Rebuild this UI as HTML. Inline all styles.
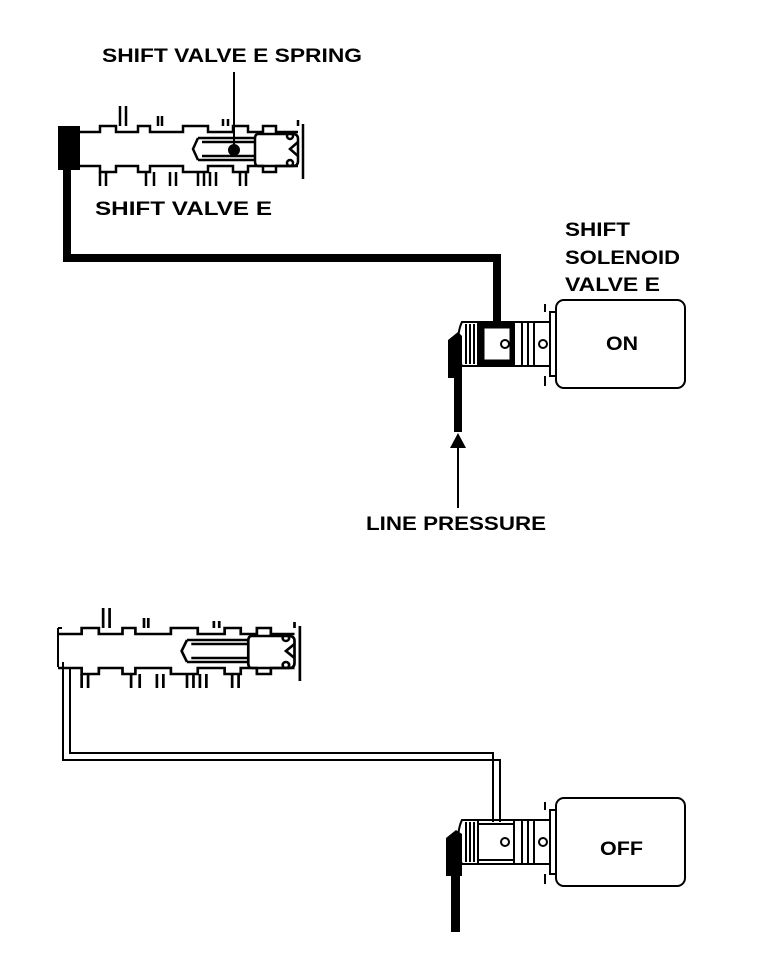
<!DOCTYPE html>
<html><head><style>
html,body{margin:0;padding:0;background:#fff;}
svg{display:block;}
text{font-family:"Liberation Sans",sans-serif;font-weight:bold;fill:#000;}
</style></head><body>
<svg width="768" height="966" viewBox="0 0 768 966" xmlns="http://www.w3.org/2000/svg">
<defs>
<g id="valve" fill="none" stroke="#000" stroke-width="2.5">
  <path d="M20 8 H42 V2 H58 V8 H80 V2 H92 V8 H125 V2 H150 V8 H175 V2 H190 V8 H205 V2 H218 V8 H240" />
  <path d="M20 42 H42 V48 H58 V42 H80 V48 H92 V42 H125 V48 H150 V42 H175 V48 H190 V42 H205 V48 H218 V42 H240" />
  <path d="M62 2 V-18 M68 2 V-18 M100 2 V-8 M104 2 V-8 M165 2 V-5 M170 2 V-5 M240 2 V-4" />
  <path d="M42 48 V62 M48 48 V62 M88 48 V62 M96 48 V62 M112 48 V62 M118 48 V62 M140 48 V62 M146 48 V62 M152 48 V62 M158 48 V62 M182 48 V62 M188 48 V62" />
  <path d="M140 14 H198 M140 36 H198 M144 18 H198 M144 32 H198 M140 14 L135 25 L140 36" />
  <path d="M200 10 H235 Q240 10 240 15 V37 Q240 42 235 42 H200 Q197 42 197 37 V15 Q197 10 200 10 Z" />
  <path d="M240 18 L232 25 L240 32" />
  <circle cx="232" cy="12" r="3"/><circle cx="232" cy="39" r="3"/>
  <path d="M245 0 V55" />
</g>
<g id="sol" stroke="#000" stroke-width="2" fill="none">
  <rect x="556" y="0" width="129" height="88" rx="8" fill="#fff"/>
  <rect x="550" y="12" width="6" height="64"/>
  <path d="M545 4 V12 M545 76 V86" />
  <path d="M477 22 H550 V66 H477" />
  <rect x="478" y="26" width="36" height="36" fill="#fff"/>
  <path d="M514 22 V66 M522 22 V66 M528 22 V66 M534 22 V66" />
  <circle cx="505" cy="44" r="4"/><circle cx="543" cy="44" r="4"/>
  <path d="M462 22 H478 V66 H462 Q458 58 458 44 Q458 30 462 22 Z" fill="#fff"/>
  <path d="M466 24 V64 M470 24 V64 M474 24 V64" />
</g>
</defs>

<text x="102" y="62" font-size="19" textLength="260" lengthAdjust="spacingAndGlyphs">SHIFT VALVE E SPRING</text>
<use href="#valve" x="58" y="124"/>
<rect x="58" y="126" width="22" height="44" fill="#000"/>
<line x1="234" y1="72" x2="234" y2="148" stroke="#000" stroke-width="2"/>
<circle cx="234" cy="150" r="6" fill="#000"/>
<text x="95" y="215" font-size="19" textLength="177" lengthAdjust="spacingAndGlyphs">SHIFT VALVE E</text>
<polyline points="67,170 67,258 497,258 497,322" fill="none" stroke="#000" stroke-width="8"/>
<text x="565" y="236" font-size="19" textLength="65" lengthAdjust="spacingAndGlyphs">SHIFT</text>
<text x="565" y="264" font-size="19" textLength="115" lengthAdjust="spacingAndGlyphs">SOLENOID</text>
<text x="565" y="291" font-size="19" textLength="95" lengthAdjust="spacingAndGlyphs">VALVE E</text>
<use href="#sol" y="300"/>
<path d="M478 322 H514 V366 H478 Z" fill="#000"/>
<rect x="484" y="328" width="26" height="32" fill="#fff" stroke="#000" stroke-width="1"/>
<circle cx="505" cy="344" r="4" fill="none" stroke="#000" stroke-width="2"/>
<path d="M448 340 L458 332 L462 336 V378 H448 Z" fill="#000"/>
<rect x="454" y="376" width="8" height="56" fill="#000"/>
<path d="M458 433 L450 448 H466 Z" fill="#000"/>
<line x1="458" y1="446" x2="458" y2="508" stroke="#000" stroke-width="2"/>
<text x="366" y="530" font-size="19" textLength="180" lengthAdjust="spacingAndGlyphs">LINE PRESSURE</text>
<text x="606" y="350" font-size="19" textLength="32" lengthAdjust="spacingAndGlyphs">ON</text>

<use href="#valve" transform="translate(36.5,626) scale(1.075,1)"/>
<path d="M58 628 V667 M58 628 H62" stroke="#000" stroke-width="2" fill="none"/>
<polyline points="63,662 63,760 500,760 500,822" fill="none" stroke="#000" stroke-width="2"/>
<polyline points="70,667 70,753 493,753 493,822" fill="none" stroke="#000" stroke-width="2"/>
<use href="#sol" y="798"/>
<path d="M446 838 L456 830 L462 834 V876 H446 Z" fill="#000"/>
<rect x="451" y="874" width="9" height="58" fill="#000"/>
<text x="600" y="855" font-size="19" textLength="43" lengthAdjust="spacingAndGlyphs">OFF</text>
</svg>
</body></html>
